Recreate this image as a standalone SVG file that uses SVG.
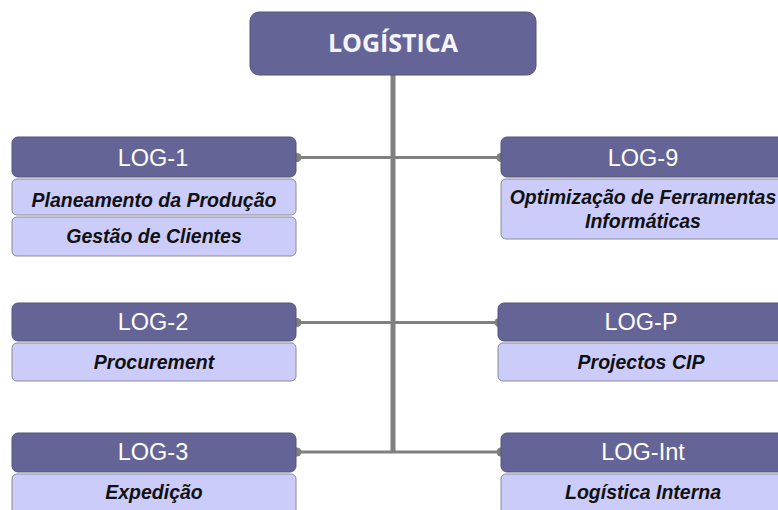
<svg xmlns="http://www.w3.org/2000/svg" width="778" height="510" viewBox="0 0 778 510">
<style>
.hd{fill:#646496;stroke:#54547c;stroke-width:1}
.sb{fill:#ccccfa;stroke:#8a8a96;stroke-width:1}
.ht{font-family:"Liberation Sans",Arial,sans-serif;font-size:23.5px;fill:#ffffff;text-anchor:middle}
.st{font-family:"Liberation Sans",Arial,sans-serif;font-size:19.5px;font-weight:bold;font-style:italic;fill:#111111;text-anchor:middle}
.ln{stroke:#808080;fill:none}
.dt{fill:#808080}
</style>
<rect width="778" height="510" fill="#ffffff"/>
<g id="connectors">
<line class="ln" x1="393" y1="75" x2="393" y2="453" stroke-width="5"/>
<line class="ln" x1="296" y1="157.5" x2="501" y2="157.5" stroke-width="3"/>
<line class="ln" x1="296" y1="322.5" x2="498" y2="322.5" stroke-width="3"/>
<line class="ln" x1="296" y1="452" x2="501" y2="452" stroke-width="3"/>
<circle class="dt" cx="297" cy="157.5" r="4.5"/>
<circle class="dt" cx="501" cy="157.5" r="4.5"/>
<circle class="dt" cx="297" cy="322.5" r="4.5"/>
<circle class="dt" cx="499" cy="322.5" r="4.5"/>
<circle class="dt" cx="297" cy="452" r="4.5"/>
<circle class="dt" cx="501" cy="452" r="4.5"/>
</g>
<g id="logistica">
<rect class="hd" x="250" y="12" width="286" height="63" rx="9"/>
<text x="393" y="52" text-anchor="middle" font-family="'Open Sans','Liberation Sans',sans-serif" font-size="25" font-weight="bold" fill="#f4f4fa">LOGÍSTICA</text>
</g>
<g id="log1">
<rect class="hd" x="12" y="137" width="284" height="40" rx="6"/>
<text class="ht" x="153" y="166">LOG-1</text>
<rect class="sb" x="12" y="179" width="284" height="36" rx="5"/>
<text class="st" x="154" y="207">Planeamento da Produção</text>
<rect class="sb" x="12" y="217" width="284" height="39" rx="5"/>
<text class="st" x="154" y="243">Gestão de Clientes</text>
</g>
<g id="log9">
<rect class="hd" x="501" y="137" width="284" height="40" rx="6"/>
<text class="ht" x="643" y="166">LOG-9</text>
<rect class="sb" x="501" y="179" width="284" height="60" rx="5"/>
<text class="st" x="643" y="204">Optimização de Ferramentas</text>
<text class="st" x="643" y="228">Informáticas</text>
</g>
<g id="log2">
<rect class="hd" x="12" y="303" width="284" height="38" rx="6"/>
<text class="ht" x="153" y="330">LOG-2</text>
<rect class="sb" x="12" y="343" width="284" height="38" rx="5"/>
<text class="st" x="154" y="369">Procurement</text>
</g>
<g id="logp">
<rect class="hd" x="498" y="303" width="287" height="38" rx="6"/>
<text class="ht" x="641" y="330">LOG-P</text>
<rect class="sb" x="498" y="343" width="287" height="38" rx="5"/>
<text class="st" x="641" y="369">Projectos CIP</text>
</g>
<g id="log3">
<rect class="hd" x="12" y="433" width="284" height="39" rx="6"/>
<text class="ht" x="153" y="460">LOG-3</text>
<rect class="sb" x="12" y="474" width="284" height="45" rx="5"/>
<text class="st" x="154" y="499">Expedição</text>
</g>
<g id="logint">
<rect class="hd" x="501" y="433" width="284" height="39" rx="6"/>
<text class="ht" x="643" y="460">LOG-Int</text>
<rect class="sb" x="501" y="474" width="284" height="45" rx="5"/>
<text class="st" x="643" y="499">Logística Interna</text>
</g>
</svg>
